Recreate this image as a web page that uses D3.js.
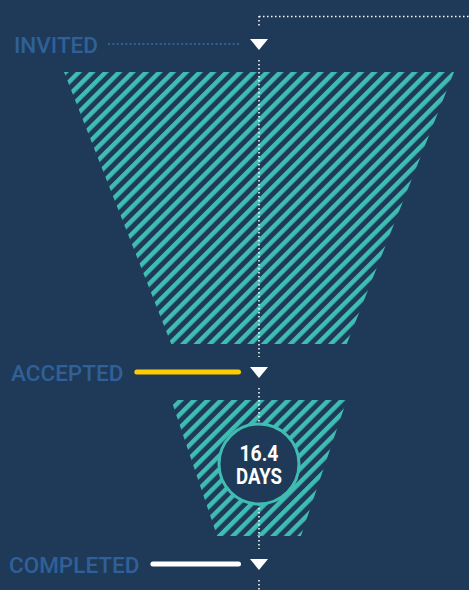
<!DOCTYPE html>
<html>
<head>
<meta charset="utf-8">
<script src="https://cdn.jsdelivr.net/npm/d3@7"></script>
<style>
  html, body { margin: 0; padding: 0; background: #1e3a58; }
  svg { display: block; }
</style>
</head>
<body>
<div id="chart"></div>
<script>
// funnel data
const stages = ["INVITED", "ACCEPTED", "COMPLETED"];
const stageValues = [100, 45, 21.5];
const stageDepth = [0, 328, 520];
const lineStyles = ["dotted", "yellow", "white"];
const durationValue = "16.4";
const durationUnit = "DAYS";

const width = 469, height = 590;
const cx = 259;
const bg = "#1e3a58", teal = "#3fbdb3", labelBlue = "#2f6098";

const svg = d3.select("#chart")
    .append("svg")
    .attr("width", width)
    .attr("height", height);

svg.append("rect")
    .attr("width", width)
    .attr("height", height)
    .attr("fill", bg);

// stripe pattern
const pattern = svg.append("defs")
    .append("pattern")
    .attr("id", "stripes")
    .attr("patternUnits", "userSpaceOnUse")
    .attr("width", 9.5)
    .attr("height", 10)
    .attr("patternTransform", "rotate(45)");
pattern.append("rect")
    .attr("width", 4.5)
    .attr("height", 10)
    .attr("fill", teal);

const w = d3.scaleLinear().domain([0, 100]).range([0, 390]);
const y = d3.scaleLinear().domain([0, 520]).range([44, 564]);
const gap = 28;

// funnel segments
const segs = d3.range(stages.length - 1).map(i => ({
    y0: y(stageDepth[i]) + gap,
    y1: y(stageDepth[i + 1]) - gap,
    w0: w(stageValues[i]),
    w1: w(stageValues[i + 1])
}));

svg.append("g")
    .selectAll("path")
    .data(segs)
    .enter()
    .append("path")
    .attr("d", d => `M${cx - d.w0 / 2},${d.y0}L${cx + d.w0 / 2},${d.y0}L${cx + d.w1 / 2},${d.y1}L${cx - d.w1 / 2},${d.y1}Z`)
    .attr("fill", "url(#stripes)");

// vertical dotted guide, broken around the markers
const dash = "1.5,2.5";
const pieces = [[16, y(stageDepth[0]) - 16]];
stageDepth.forEach((d, i) => {
    const a = y(d) + 16;
    const b = i < stageDepth.length - 1 ? y(stageDepth[i + 1]) - 15 : height;
    pieces.push([a, b]);
});
svg.append("g")
    .selectAll("line")
    .data(pieces)
    .enter()
    .append("line")
    .attr("x1", cx).attr("x2", cx)
    .attr("y1", d => d[0]).attr("y2", d => d[1])
    .attr("stroke", "#ffffff")
    .attr("stroke-width", 1.5)
    .attr("stroke-dasharray", dash);

svg.append("line")
    .attr("x1", cx).attr("x2", width)
    .attr("y1", 16.5).attr("y2", 16.5)
    .attr("stroke", "#ffffff")
    .attr("stroke-width", 1.5)
    .attr("stroke-dasharray", dash);

// markers
svg.append("g")
    .selectAll("path")
    .data(stageDepth)
    .enter()
    .append("path")
    .attr("d", d => `M${cx - 9},${y(d) - 5}L${cx + 9},${y(d) - 5}L${cx},${y(d) + 6}Z`)
    .attr("fill", "#ffffff");

// labels
const labels = svg.append("g")
    .selectAll("text")
    .data(stages)
    .enter()
    .append("text")
    .attr("x", (d, i) => [14, 11, 9][i])
    .attr("y", (d, i) => y(stageDepth[i]) + 9)
    .attr("fill", labelBlue)
    .style("font-family", "Roboto, sans-serif")
    .style("font-size", "22.5px")
    .style("font-weight", "500")
    .text(d => d);

const labelEnds = [];
labels.each(function() { const b = this.getBBox(); labelEnds.push(b.x + b.width); });

svg.append("g")
    .selectAll("line")
    .data(stages)
    .enter()
    .append("line")
    .attr("x1", (d, i) => labelEnds[i] + (lineStyles[i] === "dotted" ? 10 : 13.5))
    .attr("x2", (d, i) => lineStyles[i] === "dotted" ? 241 : 238.5)
    .attr("y1", (d, i) => y(stageDepth[i]))
    .attr("y2", (d, i) => y(stageDepth[i]))
    .attr("stroke", (d, i) => lineStyles[i] === "dotted" ? labelBlue : lineStyles[i] === "yellow" ? "#ffcc00" : "#ffffff")
    .attr("stroke-width", (d, i) => lineStyles[i] === "dotted" ? 2 : 5)
    .attr("stroke-linecap", (d, i) => lineStyles[i] === "dotted" ? "butt" : "round")
    .attr("stroke-dasharray", (d, i) => lineStyles[i] === "dotted" ? "2,2.3" : null);

// duration badge
const cy = (segs[1].y0 + segs[1].y1) / 2 - 4;
svg.append("circle")
    .attr("cx", cx)
    .attr("cy", cy)
    .attr("r", 40)
    .attr("fill", bg)
    .attr("stroke", teal)
    .attr("stroke-width", 3);

svg.append("text")
    .attr("x", cx)
    .attr("y", cy - 3)
    .attr("text-anchor", "middle")
    .attr("fill", "#ffffff")
    .attr("textLength", 39)
    .attr("lengthAdjust", "spacingAndGlyphs")
    .style("font-family", "Roboto, sans-serif")
    .style("font-size", "22px")
    .style("font-weight", "bold")
    .text(durationValue);

svg.append("text")
    .attr("x", cx)
    .attr("y", cy + 20)
    .attr("text-anchor", "middle")
    .attr("fill", "#ffffff")
    .attr("textLength", 46)
    .attr("lengthAdjust", "spacingAndGlyphs")
    .style("font-family", "Roboto, sans-serif")
    .style("font-size", "21.5px")
    .style("font-weight", "bold")
    .text(durationUnit);
</script>
</body>
</html>
